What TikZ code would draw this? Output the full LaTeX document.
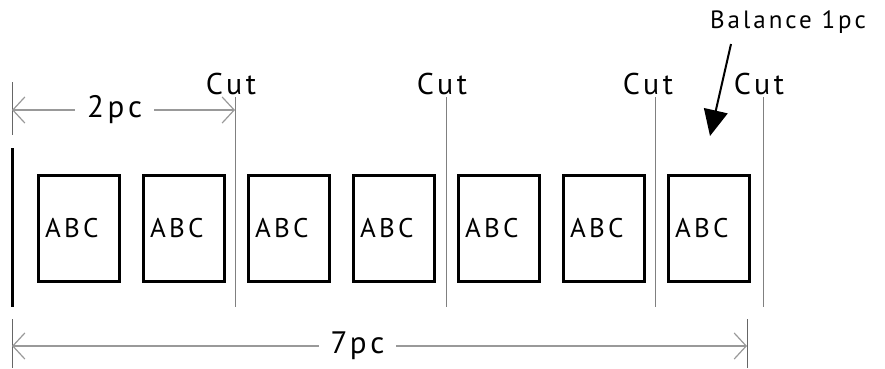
\documentclass[tikz,border=0pt]{standalone}
\usepackage{fontspec}
\setmainfont{PT Sans}[LetterSpace=12]
\usepackage{tikz}
\usetikzlibrary{arrows.meta, positioning}

\begin{document}
\begin{tikzpicture}[
  x=1pt, y=-1pt,
  page/.style  = {draw, line width=3pt, outer sep=0pt, minimum width=81pt, minimum height=106pt,
                  inner xsep=7pt, text width=67pt, align=left, font=\fontsize{27}{30}\selectfont},
  cutline/.style = {draw=black!50, line width=1pt},
  extline/.style = {draw=black!60, line width=0.8pt},
  dim/.style   = {draw=black!40, line width=1.2pt,
                  {Straight Barb[length=12pt,width=26pt]}-{Straight Barb[length=12pt,width=26pt]}},
  dimlabel/.style = {fill=white, inner xsep=12pt, font=\fontsize{31}{33}\selectfont},
  cutlabel/.style = {above, inner sep=2pt, font=\fontsize{30}{32}\selectfont},
  arrow/.style = {line width=2pt, -{Triangle[length=26pt,width=24pt]}},
  node distance=24pt
]
  \useasboundingbox (0,0) rectangle (885,368);

  % Pages
  \node[page, anchor=north west] (p1) at (38,175) {ABC};
  \node[page, right=of p1] (p2) {ABC};
  \node[page, right=of p2] (p3) {ABC};
  \node[page, right=of p3] (p4) {ABC};
  \node[page, right=of p4] (p5) {ABC};
  \node[page, right=of p5] (p6) {ABC};
  \node[page, right=of p6] (p7) {ABC};

  % Left edge of the sheet
  \draw[line width=3pt] (12,148) -- (12,307);

  % Cut lines
  \coordinate (c1t) at (235,97);  \coordinate (c1b) at (235,307);
  \coordinate (c2t) at (446,97);  \coordinate (c2b) at (446,307);
  \coordinate (c3t) at (655,97);  \coordinate (c3b) at (655,307);
  \coordinate (c4t) at (763,97);  \coordinate (c4b) at (763,307);
  \draw[cutline] (c1t) -- (c1b);
  \draw[cutline] (c2t) -- (c2b);
  \draw[cutline] (c3t) -- (c3b);
  \draw[cutline] (c4t) -- (c4b);
  \node[cutlabel, xshift=-4pt] (cut1) at (c1t) {Cut};
  \node[cutlabel, xshift=-4pt] (cut2) at (c2t) {Cut};
  \node[cutlabel, xshift=-7pt] (cut3) at (c3t) {Cut};
  \node[cutlabel, xshift=-4pt] (cut4) at (c4t) {Cut};

  % Extension lines
  \coordinate (e1t) at (12,82);   \coordinate (e1b) at (12,135);
  \coordinate (e2t) at (12,319);  \coordinate (e2b) at (12,368);
  \coordinate (e3t) at (747,319); \coordinate (e3b) at (747,368);
  \draw[extline] (e1t) -- (e1b);
  \draw[extline] (e2t) -- (e2b);
  \draw[extline] (e3t) -- (e3b);

  % Dimensions
  \coordinate (d1a) at (12,110);  \coordinate (d1b) at (235,110);
  \coordinate (d2a) at (12,346);  \coordinate (d2b) at (747,346);
  \draw[dim] (d1a) -- node[dimlabel, pos=0.46] (two) {2pc} (d1b);
  \draw[dim] (d2a) -- node[dimlabel, pos=0.47] (seven) {7pc} (d2b);

  % Balance
  \node[font=\fontsize{25}{27}\selectfont] (bal) at (788,22) {Balance 1pc};
  \coordinate (balend) at (710,136);
  \draw[arrow] (731,44) -- (balend);

\end{tikzpicture}
\end{document}
